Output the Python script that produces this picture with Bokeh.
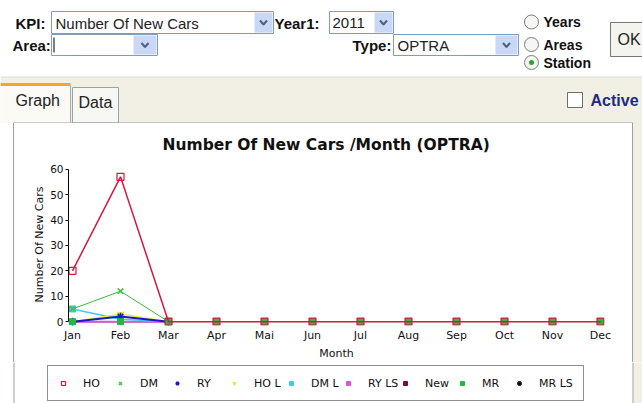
from bokeh.plotting import figure
from bokeh.layouts import column, row
from bokeh.models import (Range1d, FixedTicker, LinearAxis, Legend, LegendItem, Spacer)
from bokeh.core.properties import value
from bokeh.embed import file_html
from bokeh.resources import INLINE

# ---------------- data ----------------
months = ["Jan", "Feb", "Mar", "Apr", "Mai", "Jun", "Jul", "Aug", "Sep", "Oct", "Nov", "Dec"]
ho = [20, 57, 0, 0, 0, 0, 0, 0, 0, 0, 0, 0]
mr = [0, 0, 0, 0, 0, 0, 0, 0, 0, 0, 0, 0]
dm = [5, 12, 0]
ry = [0, 2, 0]
ho_l = [0, 3, 0]
dm_l = [5, 1, 0]
ry_ls = [0, 0, 0]
new = [0, 0, 0]
mr_ls = [0, 0, 0]
y_ticks = [0, 10, 20, 30, 40, 50, 60]
series_names = ["HO", "DM", "RY", "HO L", "DM L", "RY LS", "New", "MR", "MR LS"]
series_values = {"HO": ho, "DM": dm, "RY": ry, "HO L": ho_l, "DM L": dm_l,
                 "RY LS": ry_ls, "New": new, "MR": mr, "MR LS": mr_ls}
chart_title = "Number Of New Cars /Month (OPTRA)"

UI_FONT = "Liberation Sans"
CH_FONT = "DejaVu Sans"

# marker style of each series (also used for the legend keys)
styles = {
    "HO": dict(marker="square", size=7, fill_color=None, line_color="#d4183e", line_width=1.2),
    "DM": dict(marker="x", size=8, line_color="#3cc83c", line_width=1.5),
    "RY": dict(marker="asterisk", size=8, line_color="#1818d0", line_width=1.5),
    "HO L": dict(marker="y", size=8, line_color="#e0e020", line_width=1.5),
    "DM L": dict(marker="square", size=6, fill_color="#44c8ee", line_color="#44c8ee"),
    "RY LS": dict(marker="square", size=5, fill_color="#d65ad6", line_color="#d65ad6"),
    "New": dict(marker="square", size=4, fill_color="#7a1040", line_color="#7a1040"),
    "MR": dict(marker="square", size=6, fill_color="#22b844", line_color="#22b844"),
    "MR LS": dict(marker="circle", size=4, fill_color="#111111", line_color="#111111"),
}

# ---------------- top form (UI) ----------------
top = figure(width=642, height=123, x_range=Range1d(0, 642), y_range=Range1d(123, 0),
             toolbar_location=None, output_backend="svg", x_axis_type=None,
             y_axis_type=None, min_border=0)
top.outline_line_color = None
top.background_fill_color = "white"
top.border_fill_color = "white"

top.quad(left=[0], right=[642], top=[77], bottom=[123], fill_color="#f2f0e4", line_color=None)
top.segment(x0=[0], y0=[76.5], x1=[642], y1=[76.5], line_color="#dcd8c8", line_width=1)
top.quad(left=[0], right=[70], top=[84], bottom=[123], fill_color="#fbfaf5", line_color=None)
top.quad(left=[0], right=[70], top=[82.5], bottom=[85.5], fill_color="#f2a33a", line_color=None)
top.segment(x0=[70], y0=[85], x1=[70], y1=[122], line_color="#a8aeae", line_width=1)
top.quad(left=[72], right=[118], top=[87], bottom=[122.5], fill_color="#f7f7f3", line_color="#9aa2a3")
top.segment(x0=[13], y0=[122.5], x1=[632.5], y1=[122.5], line_color="#9aa2a3", line_width=1)

top.quad(left=[51, 329, 51, 393], right=[273, 393, 157, 518], top=[11, 11, 34, 34],
         bottom=[33, 33, 55, 55], fill_color="white", line_color="#7f9db9")
top.quad(left=[254, 374, 133, 495], right=[272, 392, 156, 517], top=[12, 12, 35, 35],
         bottom=[32, 32, 54, 54], fill_color="#c9d8f6", line_color=None)
arrow_cx = [263, 383, 144.5, 506]
arrow_cy = [22, 22, 44.5, 44.5]
top.multi_line(xs=[[cx - 3.5, cx, cx + 3.5] for cx in arrow_cx],
               ys=[[cy - 2, cy + 2, cy - 2] for cy in arrow_cy],
               line_color="#4d6185", line_width=2)
top.segment(x0=[53.5], y0=[37], x1=[53.5], y1=[52], line_color="black", line_width=1)

top.scatter(x=[531, 531, 531], y=[21.5, 44, 62], size=14, marker="circle",
            fill_color="#f6f6f3", line_color="#7d7d7d", line_width=1)
top.scatter(x=[531], y=[62], size=5, marker="circle", fill_color="#2aa52a", line_color=None)

top.quad(left=[610], right=[662], top=[22], bottom=[56], fill_color="#f4f4ef", line_color="#777777")
top.quad(left=[567], right=[582], top=[92], bottom=[107], fill_color="white", line_color="#6d6d6d")

top.text(x=[15, 274, 12, 352], y=[22.5, 22.5, 45, 45], text=["KPI:", "Year1:", "Area:", "Type:"],
         text_font=value(UI_FONT), text_font_size="15px", text_font_style="bold",
         text_baseline="middle", text_align="left", text_color="#111111")
top.text(x=[55, 332, 397], y=[22.5, 22.5, 45], text=["Number Of New Cars", "2011", "OPTRA"],
         text_font=value(UI_FONT), text_font_size="15px", text_baseline="middle",
         text_align="left", text_color="#222222")
top.text(x=[543, 543, 543], y=[21.5, 44, 62], text=["Years", "Areas", "Station"],
         text_font=value(UI_FONT), text_font_size="14px", text_font_style="bold",
         text_baseline="middle", text_align="left", text_color="#111111")
top.text(x=[15, 78, 617], y=[100, 102, 39], text=["Graph", "Data", "OK"],
         text_font=value(UI_FONT), text_font_size="16px", text_baseline="middle",
         text_align="left", text_color="#222222")
top.text(x=[590], y=[100], text=["Active"], text_font=value(UI_FONT), text_font_size="16px",
         text_font_style="bold", text_baseline="middle", text_align="left", text_color="#1e2a8a")

# ---------------- chart ----------------
pad_x = 1.0 / 12.0
chart = figure(width=618, height=239, x_range=Range1d(-pad_x, 11 + pad_x), y_range=Range1d(-1.5, 62.25),
               toolbar_location=None, output_backend="svg", x_axis_type=None, y_axis_type=None,
               min_border_left=54, min_border_right=28, min_border_top=38, min_border_bottom=31)
chart.outline_line_color = None
chart.background_fill_color = "white"
chart.border_fill_color = "white"

chart.title.text = chart_title
chart.title.align = "left"
chart.title.offset = 94
chart.title.text_font = CH_FONT
chart.title.text_font_size = "15.5px"
chart.title.text_font_style = "bold"
chart.title.text_color = "#111111"
chart.title.standoff = 20

yaxis = LinearAxis(bounds=(0, 60), ticker=FixedTicker(ticks=y_ticks), axis_label="Number Of New Cars")
yaxis.axis_line_color = "black"
yaxis.major_tick_line_color = "black"
yaxis.major_tick_out = 3
yaxis.major_tick_in = 0
yaxis.minor_tick_line_color = None
yaxis.major_label_standoff = 2
yaxis.major_label_text_font = CH_FONT
yaxis.major_label_text_font_size = "10.5px"
yaxis.major_label_text_color = "#111111"
yaxis.axis_label_text_font = CH_FONT
yaxis.axis_label_text_font_size = "11px"
yaxis.axis_label_text_font_style = "normal"
yaxis.axis_label_text_color = "#111111"
yaxis.axis_label_standoff = 1
chart.add_layout(yaxis, "left")

xaxis = LinearAxis(ticker=FixedTicker(ticks=list(range(12))), axis_label="Month",
                   major_label_overrides={i: m for i, m in enumerate(months)})
xaxis.axis_line_color = None
xaxis.major_tick_line_color = None
xaxis.major_tick_out = 0
xaxis.major_tick_in = 0
xaxis.minor_tick_line_color = None
xaxis.major_label_standoff = 3
xaxis.major_label_text_font = CH_FONT
xaxis.major_label_text_font_size = "11px"
xaxis.major_label_text_color = "#111111"
xaxis.axis_label_text_font = CH_FONT
xaxis.axis_label_text_font_size = "11px"
xaxis.axis_label_text_font_style = "normal"
xaxis.axis_label_text_color = "#111111"
xaxis.axis_label_standoff = 2
chart.add_layout(xaxis, "below")

x12 = list(range(12))
x3 = x12[:3]

# drawn bottom to top
chart.line(x3, mr_ls, line_color="#111111", line_width=1)
chart.scatter(x3, mr_ls, **styles["MR LS"])
chart.line(x3, new, line_color="#7a1040", line_width=1)
chart.scatter(x3, new, **styles["New"])
chart.line(x3, ry_ls, line_color="#d65ad6", line_width=2)
chart.scatter(x3, ry_ls, **styles["RY LS"])
chart.line(x3, dm_l, line_color="#44c8ee", line_width=1.5)
chart.scatter(x3, dm_l, **styles["DM L"])
chart.line(x3, ho_l, line_color="#eeee30", line_width=1.5)
chart.scatter(x3, ho_l, **styles["HO L"])
chart.line(x3, dm, line_color="#3cb83c", line_width=1)
chart.scatter(x3, dm, **styles["DM"])
chart.line(x3, ry, line_color="#1818c8", line_width=2)
chart.scatter(x3, ry, **styles["RY"])
chart.scatter(x12, mr, **styles["MR"])
chart.line(x12, ho, line_color="#d4183e", line_width=1.5)
chart.scatter(x12, ho, **styles["HO"])

# ---------------- legend strip (below the chart) ----------------
leg = figure(width=642, height=41, x_range=Range1d(0, 642), y_range=Range1d(41, 0),
             toolbar_location=None, output_backend="svg", x_axis_type=None, y_axis_type=None,
             min_border=0)
leg.extra_y_ranges = {"keys": Range1d(1000, 1001)}
leg.outline_line_color = None
leg.background_fill_color = "white"
leg.border_fill_color = "white"
# panel frame continuing from above
leg.quad(left=[633], right=[642], top=[0], bottom=[41], fill_color="#f2f0e4", line_color=None)
leg.segment(x0=[13.5, 632.5], y0=[0, 0], x1=[13.5, 632.5], y1=[41, 41],
            line_color="#9aa2a3", line_width=1)

items = []
for name in series_names:
    vals = series_values[name]
    # legend keys: same series drawn on a hidden range, only the key is visible
    r = leg.scatter(x=list(range(len(vals))), y=vals, y_range_name="keys", **styles[name])
    items.append(LegendItem(label=name, renderers=[r]))
legend = Legend(items=items, orientation="horizontal", location=(47, 2))
legend.margin = 0
legend.label_text_font = CH_FONT
legend.label_text_font_size = "11px"
legend.label_text_color = "#111111"
legend.glyph_width = 10
legend.glyph_height = 14
legend.label_height = 14
legend.label_width = 32
legend.label_standoff = 15
legend.spacing = 0
legend.padding = 10
legend.border_line_color = "#222222"
legend.border_line_width = 1.5
legend.background_fill_color = "white"
leg.add_layout(legend, "center")

left_gap = Spacer(width=13, height=239)
left_border = Spacer(width=1, height=239, styles={"background-color": "#9aa2a3"})
right_border = Spacer(width=1, height=239, styles={"background-color": "#9aa2a3"})
right_strip = Spacer(width=9, height=239, styles={"background-color": "#f2f0e4"})

layout = column(top,
                row(left_gap, left_border, chart, right_border, right_strip, spacing=0),
                leg,
                spacing=0)

open("out.html", "w").write(file_html(layout, INLINE))
